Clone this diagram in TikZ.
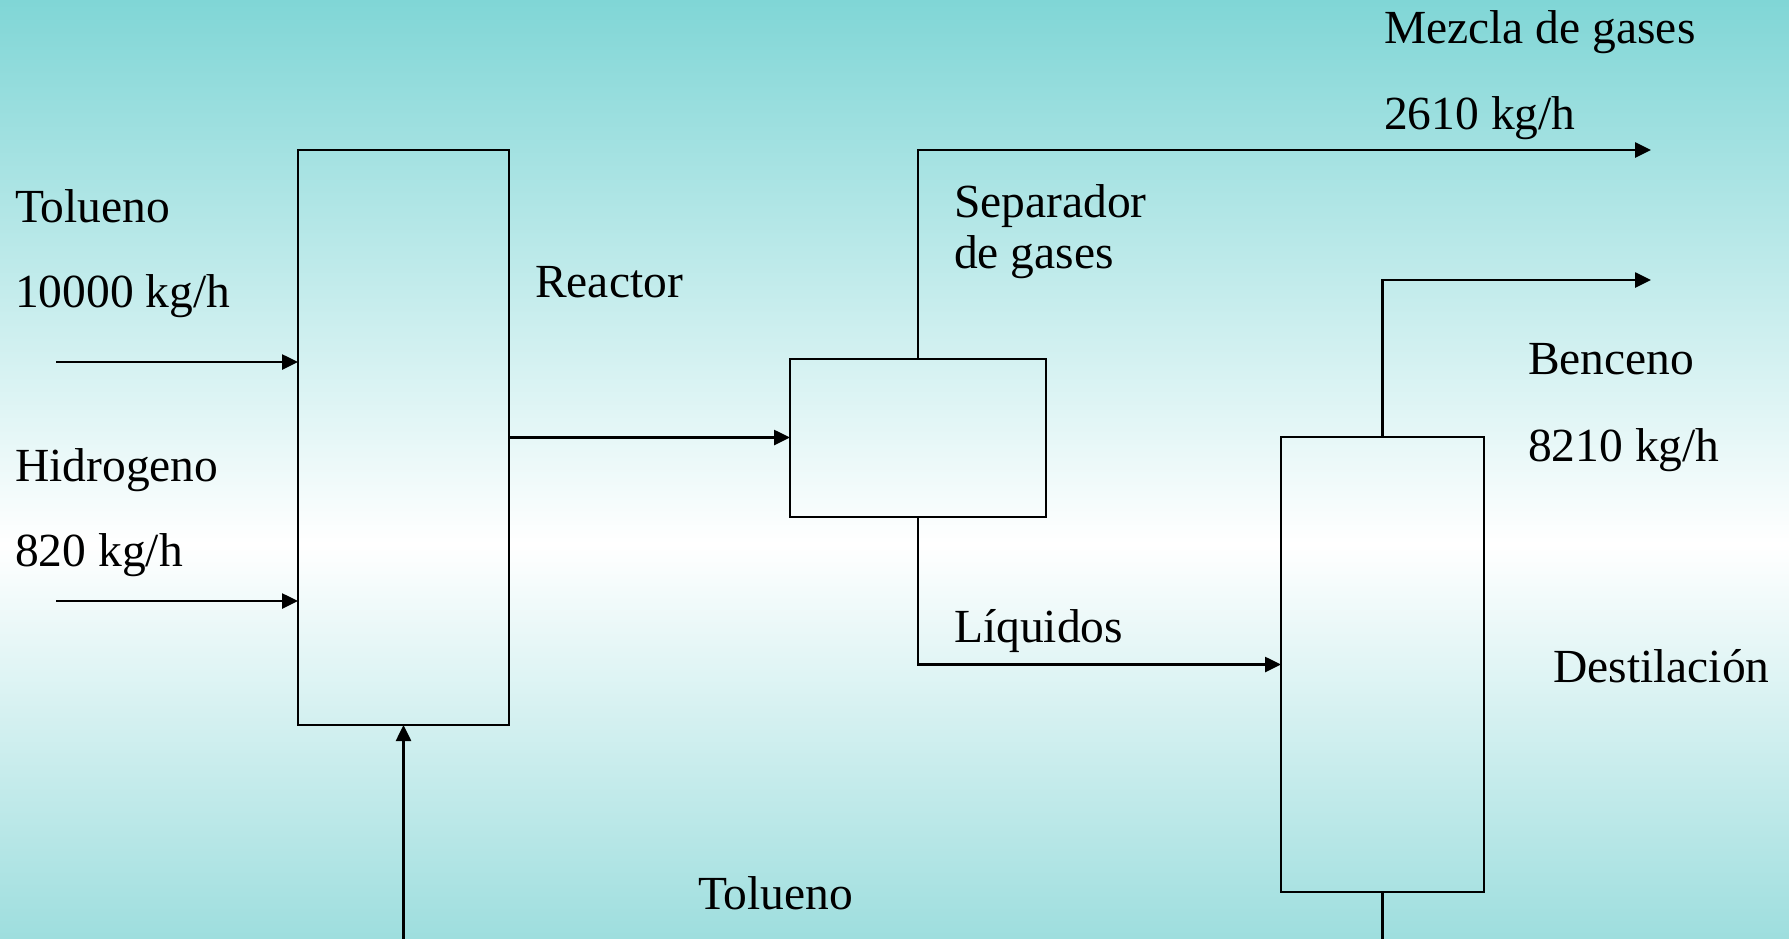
\documentclass[tikz,border=0pt]{standalone}
\usepackage{fontspec}
\setmainfont{Liberation Serif}
\usetikzlibrary{arrows.meta}
\definecolor{bgtop}{RGB}{128,214,214}
\definecolor{bgbot}{RGB}{158,222,222}
% the path is mapped onto the 25bp--75bp band of the shading
\pgfdeclareverticalshading{panelbg}{100bp}{color(0bp)=(bgbot); color(25bp)=(bgbot); color(46bp)=(white); color(75bp)=(bgtop); color(100bp)=(bgtop)}
\begin{document}
\begin{tikzpicture}[x=1pt,y=-1pt,
  unitbox/.style={draw=black, line width=2pt, inner sep=0pt, outer sep=0pt},
  pipe/.style={line width=2.6pt},
  flow/.style={pipe, -{Triangle[length=16pt,width=15pt]}},
  lbl/.style={anchor=base west, inner sep=0pt, font=\fontsize{47.5}{57}\selectfont}]
  % page and background
  \useasboundingbox (0,0) rectangle (1789,938);
  \shade[shading=panelbg] (0,0) rectangle (1789,938);
  \clip (0,0) rectangle (1789,938);

  % process units
  \node[unitbox, minimum width=211pt, minimum height=575pt] (reactor) at (403.5,437.5) {};
  \node[unitbox, minimum width=256pt, minimum height=158pt] (sep) at (918,437.5) {};
  \node[unitbox, minimum width=203pt, minimum height=455pt] (dist) at (1382.5,664.5) {};

  % free stream ends
  \coordinate (tolin) at (56,362);
  \coordinate (h2in) at (56,601);
  \coordinate (recyc) at (403.5,945);
  \coordinate (gasout) at (1651,150);
  \coordinate (benout) at (1651,280);
  \coordinate (bottoms) at (1382.5,945);

  % streams
  \draw[flow] (tolin) -- (tolin -| reactor.west);
  \draw[flow] (h2in) -- (h2in -| reactor.west);
  \draw[flow] (recyc) -- (reactor.south);
  \draw[flow] (reactor.east) -- (sep.west);
  \draw[flow] (sep.north) |- (gasout);
  \draw[flow] (sep.south) |- (dist.west);
  \draw[flow] (dist.north) |- (benout);
  \draw[pipe] (dist.south) -- (bottoms);

  % labels
  \node[lbl] (t1) at (15,222) {Tolueno};
  \node[lbl] (t2) at (15,307) {10000 kg/h};
  \node[lbl] (h1) at (15,481) {Hidrogeno};
  \node[lbl] (h2) at (15,566) {820 kg/h};
  \node[lbl] (rl) at (535,297) {Reactor};
  \node[lbl] (s1) at (954,217) {Separador};
  \node[lbl] (s2) at (954,268) {de gases};
  \node[lbl] (ll) at (954,642) {Líquidos};
  \node[lbl] (m1) at (1384,43) {Mezcla de gases};
  \node[lbl] (m2) at (1384,129) {2610 kg/h};
  \node[lbl] (b1) at (1528,374) {Benceno};
  \node[lbl] (b2) at (1528,461) {8210 kg/h};
  \node[lbl] (dl) at (1553,682) {Destilación};
  \node[lbl] (tr) at (698,909) {Tolueno};
\end{tikzpicture}
\end{document}
